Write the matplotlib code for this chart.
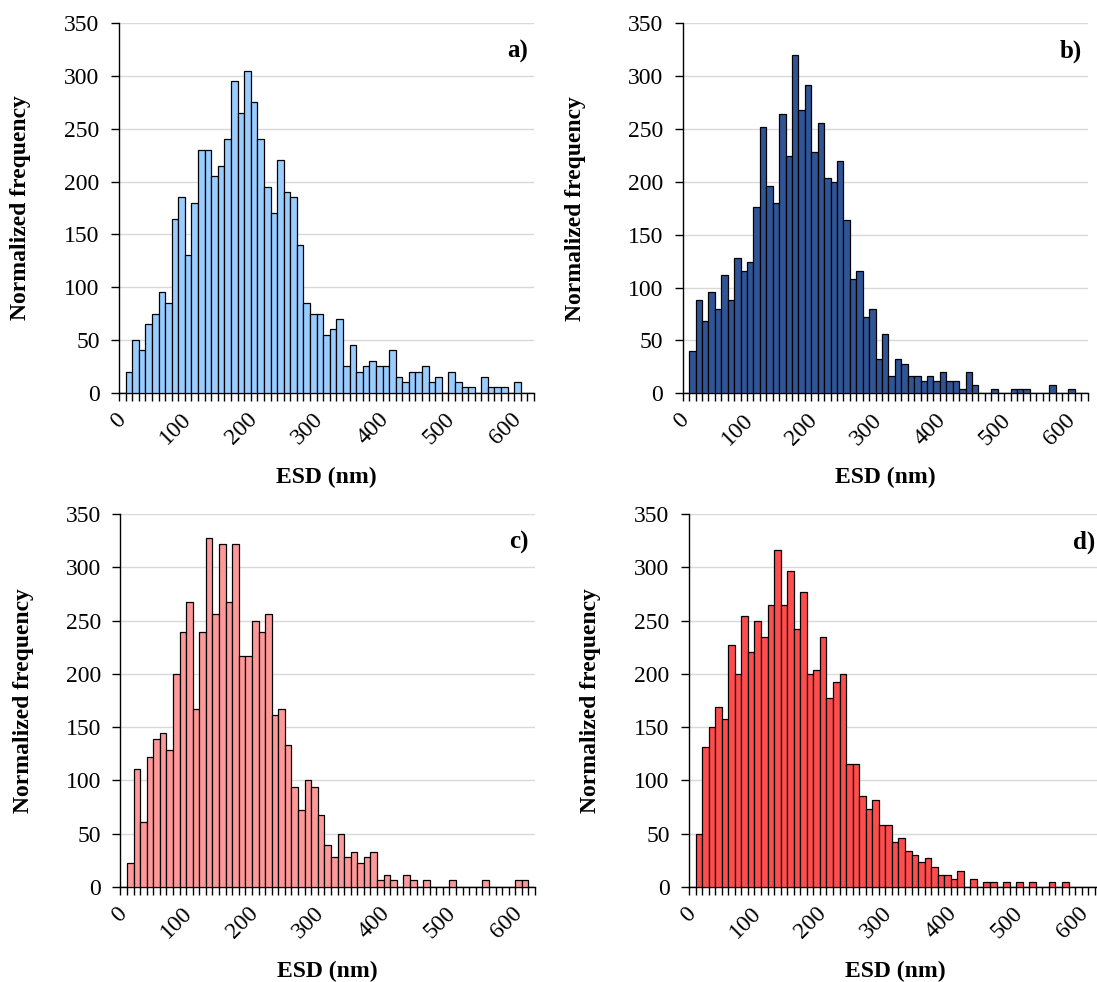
import numpy as np
import matplotlib
matplotlib.use("Agg")
import matplotlib.pyplot as plt

plt.rcParams['font.family'] = ['Liberation Serif', 'DejaVu Serif']

# ESD bins (nm), one category every 10 nm
bins = np.arange(0, 630, 10)
tick_labels = ['0', '100', '200', '300', '400', '500', '600']

# normalized frequencies
freq_a = [0, 20, 50, 40, 65, 75, 95, 85, 165, 185,
          130, 180, 230, 230, 205, 215, 240, 295, 265, 305,
          275, 240, 195, 170, 220, 190, 185, 140, 85, 75,
          75, 55, 60, 70, 25, 45, 20, 25, 30, 25,
          25, 40, 15, 10, 20, 20, 25, 10, 15, 0,
          20, 10, 5, 5, 0, 15, 5, 5, 5, 0,
          10, 0, 0]
freq_b = [0, 40, 88, 68, 96, 80, 112, 88, 128, 116,
          124, 176, 252, 196, 180, 264, 224, 320, 268, 292,
          228, 256, 204, 200, 220, 164, 108, 116, 72, 80,
          32, 56, 16, 32, 28, 16, 16, 12, 16, 12,
          20, 12, 12, 4, 20, 8, 0, 0, 4, 0,
          0, 4, 4, 4, 0, 0, 0, 8, 0, 0,
          4, 0, 0]
freq_c = [0, 22, 111, 61, 122, 139, 144, 128, 200, 239,
          267, 167, 239, 328, 256, 322, 267, 322, 217, 217,
          250, 239, 256, 161, 167, 133, 94, 72, 100, 94,
          67, 39, 28, 50, 28, 33, 22, 28, 33, 6,
          11, 6, 0, 11, 6, 0, 6, 0, 0, 0,
          6, 0, 0, 0, 0, 6, 0, 0, 0, 0,
          6, 6, 0]
freq_d = [0, 50, 131, 150, 169, 158, 227, 200, 254, 220,
          250, 235, 265, 316, 265, 297, 242, 277, 200, 204,
          235, 177, 192, 200, 115, 115, 85, 73, 81, 58,
          58, 42, 46, 34, 30, 23, 27, 19, 11, 11,
          7, 15, 0, 7, 0, 4, 4, 0, 4, 0,
          4, 0, 4, 0, 0, 4, 0, 4, 0, 0,
          0, 0, 0]

panels = [
    ('a)', freq_a, '#99CCFF', [0.1085, 0.6001, 0.3783, 0.3762], -0.212),
    ('b)', freq_b, '#2F5597', [0.6223, 0.5995, 0.3692, 0.3768], -0.239),
    ('c)', freq_c, '#FF9999', [0.1097, 0.0970, 0.3780, 0.3795], -0.208),
    ('d)', freq_d, '#FF4D4D', [0.6281, 0.0970, 0.3758, 0.3795], -0.214),
]

fig = plt.figure(figsize=(10.97, 9.82), dpi=100)

for tag, freq, color, rect, ylab_x in panels:
    ax = fig.add_axes(rect)
    x = np.arange(len(bins))
    ax.bar(x, freq, width=1.0, color=color, edgecolor='black', linewidth=0.9, zorder=3)

    ax.set_xlim(-0.5, len(bins) - 0.5)
    ax.set_ylim(0, 350)
    ax.set_yticks(np.arange(0, 351, 50))
    ax.yaxis.grid(True, color='#D9D9D9', linewidth=1, zorder=0)
    ax.set_axisbelow(True)

    # labels every 100 nm, tick marks between every category
    ax.set_xticks(x[::10])
    ax.set_xticklabels(tick_labels, rotation=45, ha='right', va='center',
                       rotation_mode='anchor', fontsize=17)
    ax.set_xticks(np.arange(-0.5, len(bins), 1), minor=True)
    ax.tick_params(axis='x', which='major', length=0, pad=17)
    ax.tick_params(axis='x', which='minor', length=6, width=1, direction='out')
    ax.tick_params(axis='y', length=6, width=1, direction='out', pad=8, labelsize=17)

    for s in ['top', 'right']:
        ax.spines[s].set_visible(False)
    ax.spines['left'].set_linewidth(1)
    ax.spines['bottom'].set_linewidth(1)

    ax.set_ylabel('Normalized frequency', fontsize=17, fontweight='bold')
    ax.yaxis.set_label_coords(ylab_x, 0.5)
    ax.set_xlabel('ESD (nm)', fontsize=17, fontweight='bold')
    ax.xaxis.set_label_coords(0.5, -0.2)

    ax.text(0.985, 0.925, tag, transform=ax.transAxes, ha='right', va='center',
            fontsize=18, fontweight='bold')

plt.savefig('out.png', dpi=100)
